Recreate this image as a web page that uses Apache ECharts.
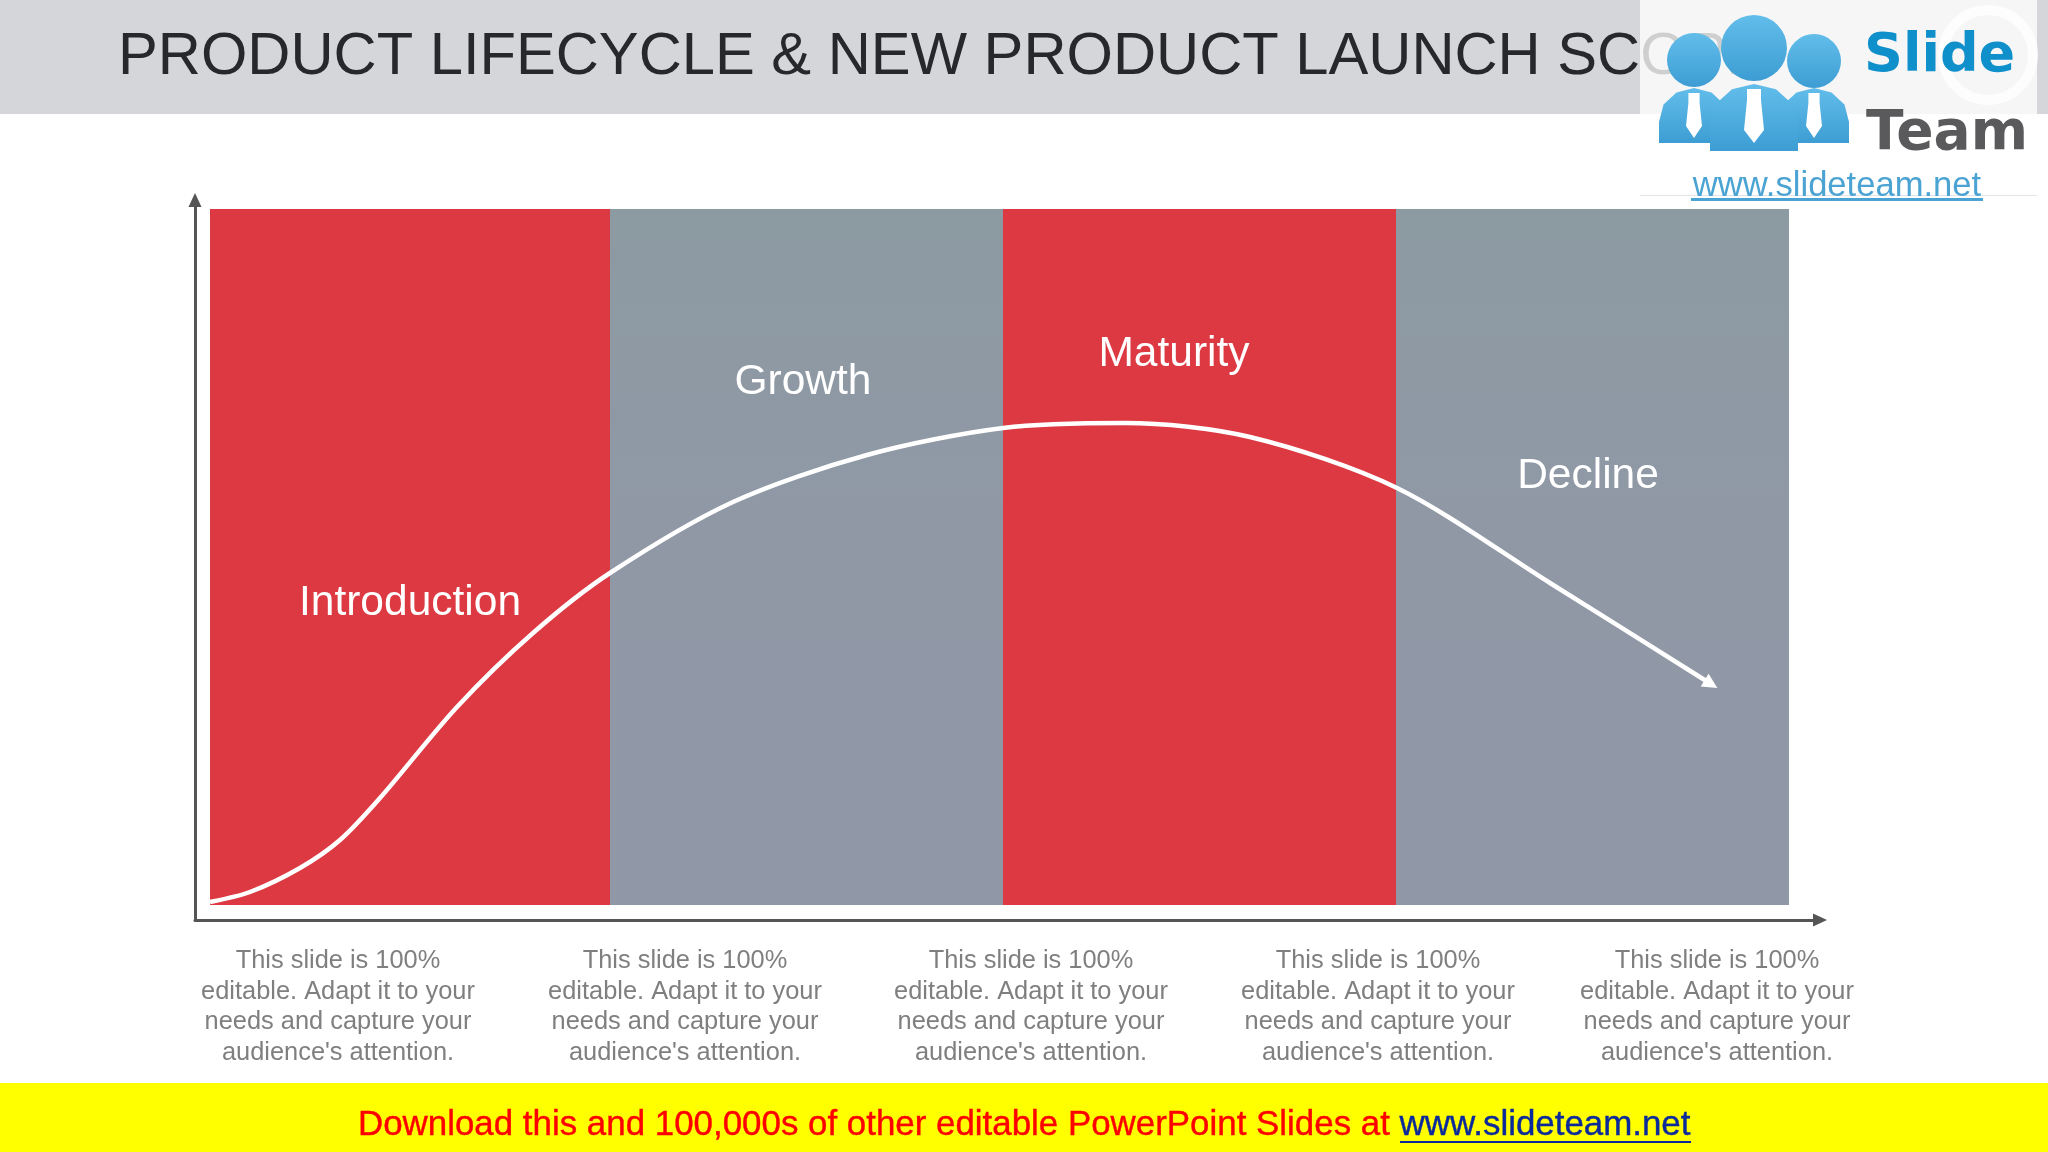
<!DOCTYPE html>
<html>
<head>
<meta charset="utf-8">
<title>Product lifecycle</title>
<style>
  html, body { margin: 0; padding: 0; background: #fff; }
  #chart { width: 2048px; height: 1152px; }
</style>
<script src="https://cdn.jsdelivr.net/npm/echarts@6/dist/echarts.min.js"></script>
</head>
<body>
<div id="chart"></div>
<script>
// stages, left to right
const stageNames = ['Introduction', 'Growth', 'Maturity', 'Decline'];
const stageStart = [15, 415, 808, 1201];
const stageEnd = [415, 808, 1201, 1594];
const stageLabelX = [215, 608, 979, 1393];
const stageLabelY = [317, 538, 566, 444];
const bandBottom = 15;
const bandTop = 711;

// lifecycle curve
const curveX = [15, 55, 105, 145, 185, 262, 338, 415, 538, 672, 808, 930, 1055, 1202, 1355, 1516];
const curveY = [18, 28, 52, 80, 122, 213, 287, 347, 418, 465, 492, 497, 483, 432, 337, 236];

const captionText = "This slide is 100%\neditable. Adapt it to your\nneeds and capture your\naudience's attention.";
const captionCentres = [338, 685, 1031, 1378, 1717];

const titleText = 'PRODUCT LIFECYCLE & NEW PRODUCT LAUNCH SCOPE';
const footerText = 'Download this and 100,000s of other editable PowerPoint Slides at ';
const footerLink = 'www.slideteam.net';

const FONT = '"Liberation Sans", Arial, sans-serif';
const RED = '#dd3942';
const greyFill = new echarts.graphic.LinearGradient(0, 0, 0, 1, [
  { offset: 0, color: '#8c9aa2' },
  { offset: 0.45, color: '#9098a6' },
  { offset: 1, color: '#9097a6' }
]);
const logoBlue = new echarts.graphic.LinearGradient(0, 0, 0, 1, [
  { offset: 0, color: '#62bdea' },
  { offset: 1, color: '#3d9dd3' }
]);

const curveData = curveX.map((x, i) => {
  if (i < curveX.length - 1) return { value: [x, curveY[i]], symbol: 'none' };
  return { value: [x, curveY[i]], symbol: 'triangle', symbolSize: 15, symbolRotate: -122 };
});

// domed shoulders of the logo figures
function body(cx, halfW, top, bottom) {
  const h = bottom - top;
  return {
    type: 'polygon',
    shape: {
      points: [
        [cx - halfW, bottom], [cx - halfW, top + h * 0.62], [cx - halfW * 0.87, top + h * 0.3],
        [cx - halfW * 0.5, top + h * 0.08], [cx, top], [cx + halfW * 0.5, top + h * 0.08],
        [cx + halfW * 0.87, top + h * 0.3], [cx + halfW, top + h * 0.62], [cx + halfW, bottom]
      ]
    },
    style: { fill: logoBlue }
  };
}
function tie(cx, halfW, top, neck, belly, tip) {
  return {
    type: 'polygon', z: 24,
    shape: {
      points: [
        [cx - halfW * 0.7, top], [cx + halfW * 0.7, top], [cx + halfW * 0.7, neck], [cx + halfW, belly],
        [cx, tip], [cx - halfW, belly], [cx - halfW * 0.7, neck]
      ]
    },
    style: { fill: '#fff' }
  };
}

const myChart = echarts.init(document.getElementById('chart'));
myChart.setOption({
  animation: false,
  backgroundColor: '#fff',
  grid: { left: 195, top: 200, width: 1625, height: 720 },
  xAxis: {
    type: 'value', min: 0, max: 1625,
    axisLine: { show: true, lineStyle: { color: '#555', width: 3 }, symbol: ['none', 'triangle'], symbolSize: [13, 14] },
    axisTick: { show: false }, axisLabel: { show: false }, splitLine: { show: false }
  },
  yAxis: {
    type: 'value', min: 0, max: 720,
    axisLine: { show: true, lineStyle: { color: '#555', width: 3 }, symbol: ['none', 'triangle'], symbolSize: [13, 14] },
    axisTick: { show: false }, axisLabel: { show: false }, splitLine: { show: false }
  },
  series: [
    {
      type: 'custom',
      z: 1,
      data: stageNames.map((n, i) => [stageStart[i], stageEnd[i], i]),
      renderItem(params, api) {
        const a = api.coord([api.value(0), bandTop]);
        const b = api.coord([api.value(1), bandBottom]);
        return {
          type: 'rect',
          shape: { x: a[0], y: a[1], width: b[0] - a[0], height: b[1] - a[1] },
          style: { fill: api.value(2) % 2 === 0 ? RED : greyFill }
        };
      }
    },
    {
      type: 'line',
      z: 3,
      data: curveData,
      smooth: 0.3,
      lineStyle: { color: '#fff', width: 4.5 },
      itemStyle: { color: '#fff', opacity: 1 },
      showAllSymbol: true
    },
    {
      type: 'scatter',
      z: 4,
      symbol: 'circle',
      symbolSize: 1,
      itemStyle: { color: 'transparent', opacity: 1 },
      data: stageNames.map((n, i) => ({ name: n, value: [stageLabelX[i], stageLabelY[i]] })),
      label: {
        show: true, position: 'inside', formatter: '{b}',
        color: '#fff', fontFamily: FONT, fontSize: 42.5
      }
    }
  ],
  graphic: [
    // title band
    { type: 'rect', z: 10, shape: { x: 0, y: 0, width: 2048, height: 114 }, style: { fill: '#d4d6d9' } },
    { type: 'text', z: 11, x: 118, y: 58, style: { text: titleText, font: '59.7px ' + FONT, fill: '#26282b', textVerticalAlign: 'middle' } },

    // captions under the axis
    ...captionCentres.map(x => ({
      type: 'text', z: 11, x: x, y: 1007,
      style: { text: captionText, font: '25.4px ' + FONT, fill: '#7f7f7f', textAlign: 'center', textVerticalAlign: 'middle', lineHeight: 30.7 }
    })),

    // footer
    { type: 'rect', z: 10, shape: { x: 0, y: 1083, width: 2048, height: 69 }, style: { fill: '#ffff00' } },
    {
      type: 'text', z: 11, x: 358, y: 1125,
      style: {
        text: '{a|' + footerText + '}{b|' + footerLink + '}',
        verticalAlign: 'middle',
        rich: {
          a: { font: '34.9px ' + FONT, fill: '#ff0000', stroke: '#ff0000', lineWidth: 0.4 },
          b: { font: '34.9px ' + FONT, fill: '#0a2a9c', stroke: '#0a2a9c', lineWidth: 0.4 }
        }
      }
    },
    { type: 'rect', z: 11, shape: { x: 1400, y: 1141, width: 291, height: 2 }, style: { fill: '#0a2a9c' } },

    // logo
    { type: 'rect', z: 20, shape: { x: 1640, y: 0, width: 397, height: 114 }, style: { fill: 'rgba(255,255,255,0.78)' } },
    { type: 'rect', z: 20, shape: { x: 1640, y: 114, width: 397, height: 81 }, style: { fill: '#fff' } },
    { type: 'rect', z: 20, shape: { x: 1640, y: 195, width: 397, height: 1 }, style: { fill: '#e4e4e4' } },
    { type: 'circle', z: 21, shape: { cx: 1988, cy: 55, r: 45 }, style: { fill: 'none', stroke: 'rgba(255,255,255,0.75)', lineWidth: 10 } },
    { type: 'circle', z: 22, shape: { cx: 1694, cy: 60, r: 27 }, style: { fill: logoBlue } },
    { type: 'circle', z: 22, shape: { cx: 1814, cy: 61, r: 27 }, style: { fill: logoBlue } },
    { type: 'circle', z: 23, shape: { cx: 1754, cy: 48, r: 33 }, style: { fill: logoBlue } },
    { ...body(1694, 35, 88, 143), z: 22 },
    { ...body(1814, 35, 88, 143), z: 22 },
    { ...body(1754, 44, 84, 151), z: 23 },
    tie(1754, 10, 89, 100, 130, 143),
    tie(1694, 8, 93, 103, 126, 138),
    tie(1814, 8, 93, 103, 126, 138),
    { type: 'text', z: 24, x: 1864, y: 57, style: { text: 'Slide', font: 'bold 54px "DejaVu Sans"', fill: '#0f90cb', textVerticalAlign: 'middle' } },
    { type: 'text', z: 24, x: 1866, y: 135, style: { text: 'Team', font: 'bold 55px "DejaVu Sans"', fill: '#5a5a5c', textVerticalAlign: 'middle' } },
    { type: 'text', z: 24, x: 1837, y: 186, style: { text: 'www.slideteam.net', font: '34.6px ' + FONT, fill: '#4ba3d3', textAlign: 'center', textVerticalAlign: 'middle' } },
    { type: 'rect', z: 24, shape: { x: 1691, y: 198, width: 292, height: 3 }, style: { fill: '#4ba3d3' } }
  ]
});
</script>
</body>
</html>
